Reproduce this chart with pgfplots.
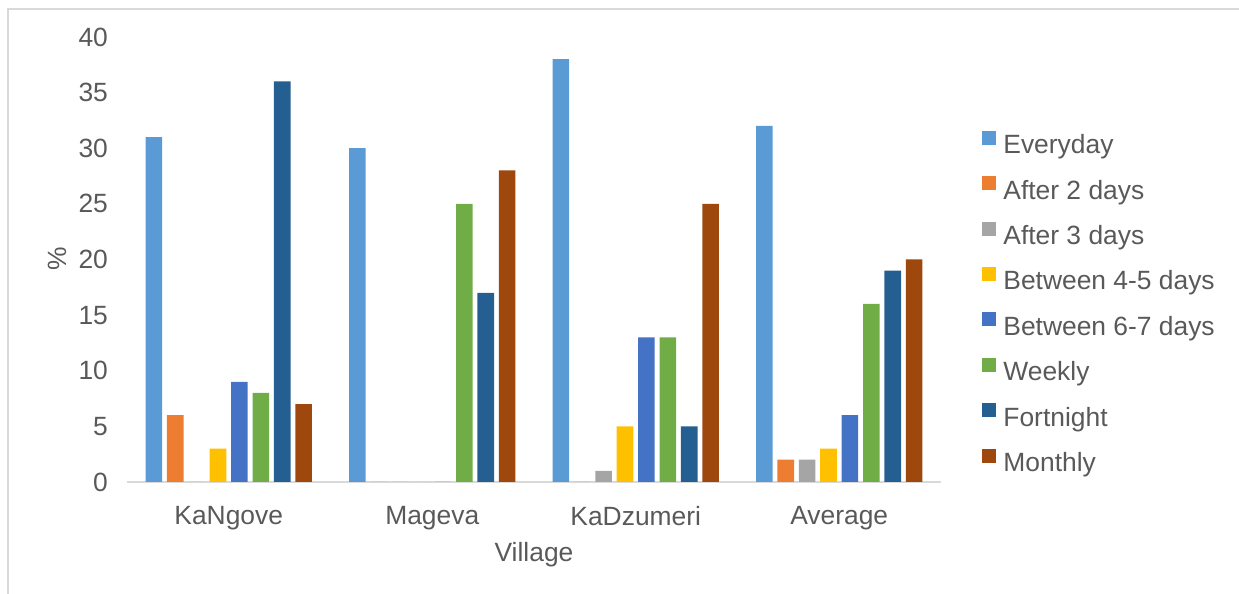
\documentclass[border=0pt]{standalone}
\usepackage{pgfplots}
\pgfplotsset{compat=1.18}
\usepackage{fontspec}
\setmainfont{Liberation Sans}

\definecolor{c1}{HTML}{5B9BD5}
\definecolor{c2}{HTML}{ED7D31}
\definecolor{c3}{HTML}{A5A5A5}
\definecolor{c4}{HTML}{FFC000}
\definecolor{c5}{HTML}{4472C4}
\definecolor{c6}{HTML}{70AD47}
\definecolor{c7}{HTML}{255E91}
\definecolor{c8}{HTML}{9E480E}
\definecolor{txt}{HTML}{595959}
\definecolor{axl}{HTML}{D9D9D9}

\newcommand{\chartfont}{\fontsize{13.2}{15.8}\selectfont}

\begin{document}
\begin{tikzpicture}
    % page size of the reference (1 px = 0.5 pt), origin at the plot's lower left
    \useasboundingbox (-63.5pt,-56pt) rectangle (556pt,241pt);
    \draw[axl, line width=0.8pt] (-59.5pt,-56pt) -- (-59.5pt,236.5pt) -- (556pt,236.5pt);

    \begin{axis}[
        scale only axis,
        width=407pt, height=222.5pt,
        ybar=2.4pt, bar width=8.3pt,
        xmin=-0.5, xmax=3.5,
        ymin=0, ymax=40,
        xtick=data,
        xticklabels={KaNgove, Mageva, KaDzumeri, Average},
        ytick={0,5,...,40},
        /pgf/number format/assume math mode=true,
        axis lines*=left,
        y axis line style={draw=none},
        x axis line style={axl, line width=0.8pt, -},
        major tick length=0pt,
        tick style={draw=none},
        tick label style={font=\chartfont, text=txt},
        yticklabel style={xshift=-6pt},
        xticklabel style={yshift=-8.5pt},
        label style={font=\chartfont, text=txt},
        xlabel={Village},
        ylabel={\%},
        x label style={at={(axis description cs:0.5,0)}, anchor=north, yshift=-26.5pt},
        y label style={at={(axis description cs:-0.086,0.501)}, anchor=center},
        legend cell align=left,
        legend style={
            at={(1.0504,0.790)}, anchor=north west,
            draw=none, fill=none, inner sep=0pt,
            font=\chartfont, text=txt,
            row sep=8.25pt, column sep=3.5pt,
            nodes={inner sep=0pt, text height=9.5pt, text depth=3pt}
        },
        legend image code/.code={\fill[#1] (0pt,1.2pt) rectangle (7pt,8.2pt);},
        every axis plot/.append style={draw=none},
    ]
    \addplot[fill=c1] coordinates {(0,31) (1,30) (2,38) (3,32)};
    \addlegendentry{Everyday}
    \addplot[fill=c2] coordinates {(0,6) (1,0) (2,0) (3,2)};
    \addlegendentry{After 2 days}
    \addplot[fill=c3] coordinates {(0,0) (1,0) (2,1) (3,2)};
    \addlegendentry{After 3 days}
    \addplot[fill=c4] coordinates {(0,3) (1,0) (2,5) (3,3)};
    \addlegendentry{Between 4-5 days}
    \addplot[fill=c5] coordinates {(0,9) (1,0) (2,13) (3,6)};
    \addlegendentry{Between 6-7 days}
    \addplot[fill=c6] coordinates {(0,8) (1,25) (2,13) (3,16)};
    \addlegendentry{Weekly}
    \addplot[fill=c7] coordinates {(0,36) (1,17) (2,5) (3,19)};
    \addlegendentry{Fortnight}
    \addplot[fill=c8] coordinates {(0,7) (1,28) (2,25) (3,20)};
    \addlegendentry{Monthly}
    \end{axis}
\end{tikzpicture}
\end{document}
